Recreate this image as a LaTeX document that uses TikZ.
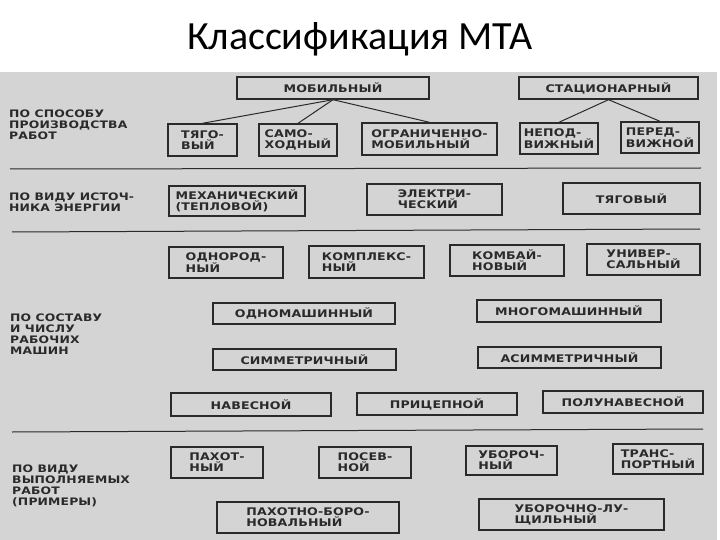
\documentclass[tikz,border=0pt]{standalone}
\usepackage{fontspec}
\usepackage{xcolor}
\setmainfont{Carlito}
\newfontfamily\scanfont{DejaVu Sans}[FakeStretch=1.2, LetterSpace=1.5]
\usetikzlibrary{positioning}
\definecolor{Scan_Gray}{HTML}{D4D4D4}
\definecolor{Scan_Ink}{HTML}{2A2A2A}

\begin{document}
\begin{tikzpicture}[
    x=1pt, y=-1pt,
    box/.style={
        draw=Scan_Ink,
        line width=1.4pt,
        text=Scan_Ink,
        align=left,
        inner sep=0pt,
        font=\scanfont\bfseries\fontsize{10.5}{11}\selectfont
    },
    group/.style={
        anchor=north west,
        align=left,
        inner sep=0pt,
        text=Scan_Ink,
        font=\scanfont\bfseries\fontsize{10.3}{11}\selectfont
    },
    link/.style={draw=Scan_Ink, line width=1pt},
    rule/.style={draw=Scan_Ink, line width=1pt}
]

\fill[white] (0,0) rectangle (720,540);
\useasboundingbox (0,0) rectangle (720,540);
\fill[Scan_Gray] (0,72) rectangle (717,540);

\node[font=\fontsize{40}{48}\selectfont, anchor=base] (title) at (360,50) {Классификация МТА};

% separators
\foreach \xa/\ya/\xb/\yb in {10/169/701/168, 12/232/700/229, 12/432/703/429}
    \draw[rule] (\xa,\ya) -- (\xb,\yb);

% group labels
\node[group] (byWork) at (9,110) {ПО СПОСОБУ\\ПРОИЗВОДСТВА\\РАБОТ};
\node[group] (byEnergy) at (9,193) {ПО ВИДУ ИСТОЧ-\\НИКА ЭНЕРГИИ};
\node[group] (byMachines) at (10,314) {ПО СОСТАВУ\\И ЧИСЛУ\\РАБОЧИХ\\МАШИН};
\node[group] (byTask) at (12,465) {ПО ВИДУ\\ВЫПОЛНЯЕМЫХ\\РАБОТ\\ (ПРИМЕРЫ)};

% by way of work
\node[box, minimum width=192pt, minimum height=22pt] (mobile) at (333,88) {МОБИЛЬНЫЙ};
\node[box, minimum width=179pt, minimum height=22pt] (stationary) at (608.5,88) {СТАЦИОНАРНЫЙ};
\node[box, minimum width=69pt, minimum height=32pt] (towed) at (202.5,140) {ТЯГО-\\ВЫЙ};
\node[box, minimum width=78pt, minimum height=32pt] (selfDriven) at (298,140) {САМО-\\ХОДНЫЙ};
\node[box, minimum width=135pt, minimum height=32pt] (limited) at (429.5,139) {ОГРАНИЧЕННО-\\МОБИЛЬНЫЙ};
\node[box, minimum width=78pt, minimum height=31pt] (fixed) at (559,138.5) {НЕПОД-\\ВИЖНЫЙ};
\node[box, minimum width=78pt, minimum height=31pt] (movable) at (660,137.5) {ПЕРЕД-\\ВИЖНОЙ};

\foreach \child in {towed, selfDriven, limited}
    \draw[link] (mobile.south) -- (\child.north);
\foreach \child in {fixed, movable}
    \draw[link] (stationary.south) -- (\child.north);

% by energy source
\node[box, minimum width=136pt, minimum height=30pt] (thermal) at (237,201) {МЕХАНИЧЕСКИЙ\\(ТЕПЛОВОЙ)};
\node[box, minimum width=135pt, minimum height=31pt] (electric) at (434.5,199.5) {ЭЛЕКТРИ-\\ЧЕСКИЙ};
\node[box, minimum width=137pt, minimum height=31pt] (traction) at (631.5,198.5) {ТЯГОВЫЙ};

% by machines
\node[box, minimum width=114pt, minimum height=31pt] (uniform) at (226,262.5) {ОДНОРОД-\\НЫЙ};
\node[box, minimum width=115pt, minimum height=32pt] (complex) at (366.5,262) {КОМПЛЕКС-\\НЫЙ};
\node[box, minimum width=114pt, minimum height=31pt] (combined) at (507,260.5) {КОМБАЙ-\\НОВЫЙ};
\node[box, minimum width=113pt, minimum height=31pt] (universal) at (643.5,259.5) {УНИВЕР-\\САЛЬНЫЙ};
\node[box, minimum width=182pt, minimum height=21pt] (single) at (304,313.5) {ОДНОМАШИННЫЙ};
\node[box, minimum width=184pt, minimum height=22pt] (multi) at (569,311) {МНОГОМАШИННЫЙ};
\node[box, minimum width=183pt, minimum height=21pt] (sym) at (304.5,359.5) {СИММЕТРИЧНЫЙ};
\node[box, minimum width=183pt, minimum height=21pt] (asym) at (569.5,357.5) {АСИММЕТРИЧНЫЙ};
\node[box, minimum width=160pt, minimum height=23pt] (mounted) at (251,404.5) {НАВЕСНОЙ};
\node[box, minimum width=160pt, minimum height=22pt] (trailed) at (437,404) {ПРИЦЕПНОЙ};
\node[box, minimum width=160pt, minimum height=22pt] (semi) at (623,402) {ПОЛУНАВЕСНОЙ};

% by task
\node[box, minimum width=92pt, minimum height=31pt] (plough) at (217,462.5) {ПАХОТ-\\НЫЙ};
\node[box, minimum width=92pt, minimum height=31pt] (sowing) at (365,462.5) {ПОСЕВ-\\НОЙ};
\node[box, minimum width=91pt, minimum height=29pt] (harvest) at (511.5,460.5) {УБОРОЧ-\\НЫЙ};
\node[box, minimum width=90pt, minimum height=30pt] (transport) at (658,459) {ТРАНС-\\ПОРТНЫЙ};
\node[box, minimum width=182pt, minimum height=31pt] (ploughHarrow) at (308,517.5) {ПАХОТНО-БОРО-\\НОВАЛЬНЫЙ};
\node[box, minimum width=185pt, minimum height=31pt] (harvestPeel) at (571.5,514.5) {УБОРОЧНО-ЛУ-\\ЩИЛЬНЫЙ};

\end{tikzpicture}
\end{document}
